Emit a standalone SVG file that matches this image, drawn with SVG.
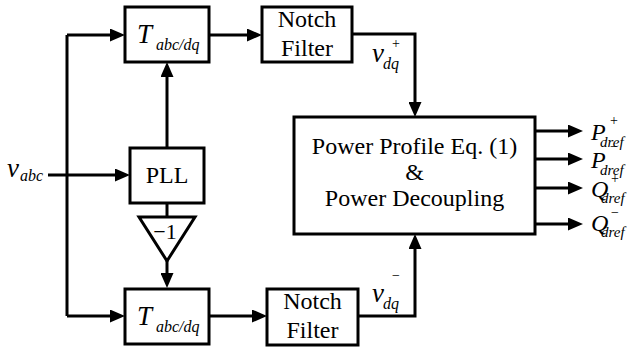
<svg xmlns="http://www.w3.org/2000/svg" width="634" height="350" viewBox="0 0 634 350" font-family="'Liberation Serif', 'Times New Roman', serif">
<style>
.box{fill:#fff;stroke:#000;stroke-width:3}
.ln{fill:none;stroke:#000;stroke-width:3}
.ar{fill:none;stroke:#000;stroke-width:3;marker-end:url(#ah)}
text{font-family:'Liberation Serif','Times New Roman',serif;fill:#000}
.t{font-size:24px;text-anchor:middle}
.it{font-style:italic}
.sup{font-size:14px}
.sub{font-size:15px;font-style:italic}
</style>
<defs>
<marker id="ah" markerUnits="userSpaceOnUse" markerWidth="15" markerHeight="13" refX="9" refY="6.5" orient="auto">
<path d="M0,0 L15,6.5 L0,13 z" fill="#000"/>
</marker>
</defs>
<g id="connectors">
<path class="ln" d="M67,35 V316"/>
<path class="ar" d="M67,35 H119"/>
<path class="ar" d="M67,316 H119"/>
<path class="ar" d="M48,175 H124"/>
<path class="ar" d="M167,148 V68"/>
<path class="ln" d="M167,203 V217"/>
<path class="ar" d="M167,261 V282"/>
<path class="ar" d="M209,35 H256"/>
<path class="ar" d="M209,316 H261"/>
<path class="ar" d="M352,34 H415 V111"/>
<path class="ar" d="M358,316 H415 V240"/>
<path class="ar" d="M535,131 H577"/>
<path class="ar" d="M535,159 H577"/>
<path class="ar" d="M535,188 H577"/>
<path class="ar" d="M535,224 H577"/>
</g>
<g id="vabc">
<text class="it" x="7" y="177" font-size="27">v</text>
<text class="it" x="20" y="181" font-size="16">abc</text>
</g>
<g id="tabc_top">
<rect class="box" x="125" y="7" width="84" height="55"/>
<text class="it" x="137" y="43" font-size="27">T</text>
<text class="it" x="156" y="50" font-size="16">abc/dq</text>
</g>
<g id="tabc_bottom">
<rect class="box" x="125" y="289" width="84" height="55"/>
<text class="it" x="137" y="325" font-size="27">T</text>
<text class="it" x="156" y="332" font-size="16">abc/dq</text>
</g>
<g id="pll">
<rect class="box" x="130" y="148" width="74" height="55"/>
<text class="t" x="167" y="183">PLL</text>
</g>
<g id="gain">
<polygon class="box" points="139,217 195,217 167,261"/>
<text x="165" y="239" font-size="22" text-anchor="middle">−1</text>
</g>
<g id="notch_top">
<rect class="box" x="262" y="7" width="90" height="55"/>
<text class="t" x="307" y="27">Notch</text>
<text class="t" x="307" y="56">Filter</text>
</g>
<g id="notch_bottom">
<rect class="box" x="267" y="289" width="91" height="56"/>
<text class="t" x="312.5" y="309">Notch</text>
<text class="t" x="312.5" y="338">Filter</text>
</g>
<g id="vdq_plus">
<text class="it" x="372" y="62" font-size="27">v</text>
<text class="sup" x="392" y="48">+</text>
<text class="it" x="383" y="69" font-size="16">dq</text>
</g>
<g id="vdq_minus">
<text class="it" x="372" y="302" font-size="27">v</text>
<text class="sup" x="392" y="280">−</text>
<text class="it" x="383" y="309" font-size="16">dq</text>
</g>
<g id="power">
<rect class="box" x="294" y="117" width="241" height="117"/>
<text class="t" x="414.5" y="154">Power Profile Eq. (1)</text>
<text class="t" x="414.5" y="180">&amp;</text>
<text class="t" x="414.5" y="206">Power Decoupling</text>
</g>
<g id="outputs">
<text class="it" x="591" y="140" font-size="24">P</text>
<text class="sup" x="610" y="125">+</text>
<text class="sub" x="600" y="147">dref</text>
<text class="it" x="591" y="168" font-size="24">P</text>
<text class="sup" x="610" y="151">−</text>
<text class="sub" x="600" y="175">dref</text>
<text class="it" x="591" y="197" font-size="24">Q</text>
<text class="sup" x="611" y="183">+</text>
<text class="sub" x="601" y="203">dref</text>
<text class="it" x="591" y="231" font-size="24">Q</text>
<text class="sup" x="611" y="217">−</text>
<text class="sub" x="601" y="237">dref</text>
</g>
</svg>
